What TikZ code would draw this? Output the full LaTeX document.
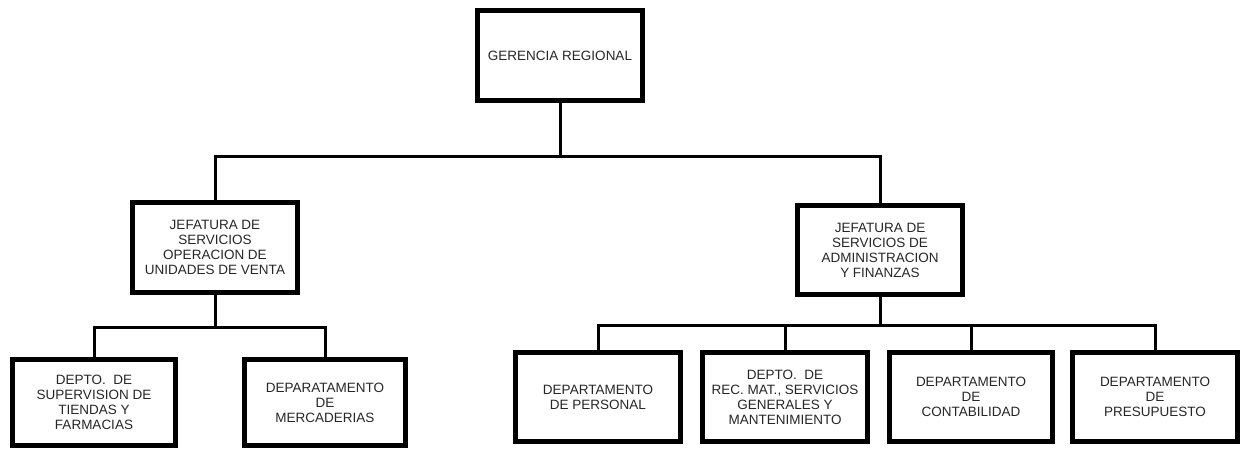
\documentclass[tikz,border=0pt]{standalone}
\usepackage{fontspec}
\setmainfont{Liberation Sans}
\begin{document}
\begin{tikzpicture}[x=1pt,y=-1pt,
  orgbox/.style={draw=black, line width=5pt, rectangle, align=center, inner sep=2pt,
    outer sep=0pt, text=black!85, font=\fontsize{13.5}{15}\selectfont,
    minimum width=165pt, minimum height=89pt, line join=miter},
  link/.style={draw=black, line width=3pt, line join=miter, line cap=rect}]
\useasboundingbox (0,0) rectangle (1243,448);
\node[orgbox, minimum height=90pt] (top) at (560,55.5) {GERENCIA REGIONAL};
\node[orgbox, minimum height=90pt] (lj) at (215,247.5) {JEFATURA DE\\SERVICIOS\\OPERACION DE\\UNIDADES DE VENTA};
\node[orgbox] (rj) at (880,250) {JEFATURA DE\\SERVICIOS DE\\ADMINISTRACION\\Y FINANZAS};
\node[orgbox, minimum width=163pt, minimum height=86pt] (sup) at (94,402.5) {DEPTO.\ \ DE\\SUPERVISION DE\\TIENDAS Y\\FARMACIAS};
\node[orgbox, minimum width=161pt, minimum height=86pt] (mer) at (325,402.5) {DEPARATAMENTO\\DE\\MERCADERIAS};
\node[orgbox] (per) at (598,397) {DEPARTAMENTO\\DE PERSONAL};
\node[orgbox] (rec) at (785,397) {DEPTO.\ \ DE\\REC. MAT., SERVICIOS\\GENERALES Y\\MANTENIMIENTO};
\node[orgbox, minimum width=163pt] (con) at (971,397) {DEPARTAMENTO\\DE\\CONTABILIDAD};
\node[orgbox] (pre) at (1155,397) {DEPARTAMENTO\\DE\\PRESUPUESTO};
\coordinate (h1) at (560,156);
\coordinate (h2) at (215,327);
\coordinate (h3) at (880,325);
\draw[link] (top.south) -- (h1);
\draw[link] (lj.north) |- (h1) -| (rj.north);
\draw[link] (lj.south) -- (h2);
\draw[link] (sup.north) |- (h2) -| (mer.north);
\draw[link] (rj.south) -- (h3);
\draw[link] (per.north) |- (h3) -| (pre.north);
\draw[link] (rec.north) -- (rec.north |- h3);
\draw[link] (con.north) -- (con.north |- h3);
\end{tikzpicture}
\end{document}
